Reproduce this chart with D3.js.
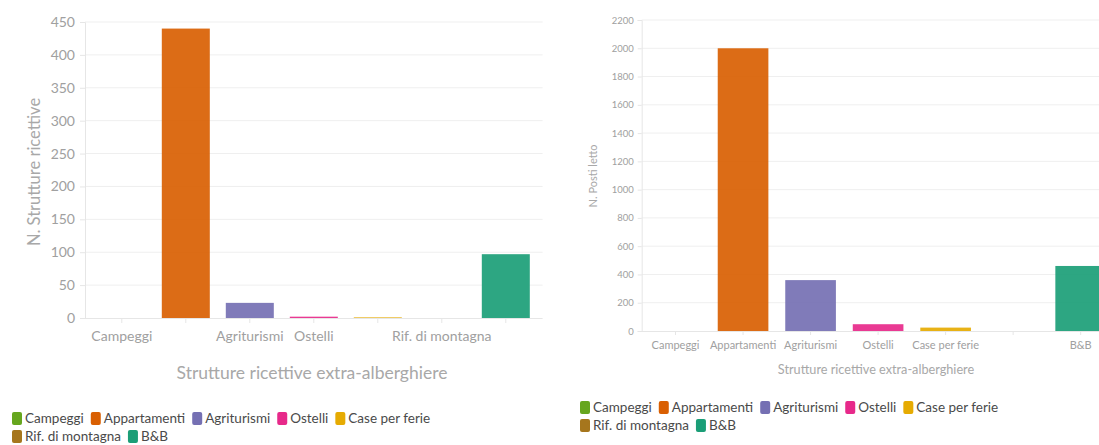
<!DOCTYPE html>
<html>
<head>
<meta charset="utf-8">
<script src="https://cdn.jsdelivr.net/npm/d3@7/dist/d3.min.js"></script>
<style>
  html, body { margin: 0; padding: 0; background: #fff; }
  svg { display: block; font-family: Lato, "Noto Sans", sans-serif; }
</style>
</head>
<body>
<svg id="chart" width="1099" height="445"></svg>
<script>
// Categories of non-hotel accommodation
const categories = ["Campeggi", "Appartamenti", "Agriturismi", "Ostelli", "Case per ferie", "Rif. di montagna", "B&B"];
const colors = ["#66a61e", "#d95f02", "#7570b3", "#e7298a", "#e6ab02", "#a6761d", "#1b9e77"];

// Number of establishments per category
const struttureValues = [0, 440, 23, 2, 1, 0, 97];
// Number of beds per category
const postiLettoValues = [0, 2000, 360, 48, 24, 0, 460];

// Tick values
const struttureTicks = [0, 50, 100, 150, 200, 250, 300, 350, 400, 450];
const postiTicks = [0, 200, 400, 600, 800, 1000, 1200, 1400, 1600, 1800, 2000, 2200];
// Category labels that fit on each axis
const struttureShownLabels = ["Campeggi", "Agriturismi", "Ostelli", "Rif. di montagna"];
const postiShownLabels = ["Campeggi", "Appartamenti", "Agriturismi", "Ostelli", "Case per ferie", "B&B"];

const svg = d3.select("#chart");

function drawPanel(cfg) {
  const g = svg.append("g");
  const x = d3.scaleBand().domain(categories).range([cfg.x0, cfg.x1])
    .paddingInner(0.25).paddingOuter(cfg.outer);
  const y = d3.scaleLinear().domain([0, cfg.max]).range([cfg.yBottom, cfg.yTop]);

  // horizontal gridlines
  g.append("g").selectAll("line").data(cfg.ticks.filter(t => t > 0)).join("line")
    .attr("x1", cfg.x0).attr("x2", cfg.x1)
    .attr("y1", d => y(d)).attr("y2", d => y(d))
    .attr("stroke", "#efefef").attr("stroke-width", 1);

  // y axis
  const ya = g.append("g").attr("transform", `translate(${cfg.x0},0)`)
    .call(d3.axisLeft(y).tickValues(cfg.ticks).tickFormat(d3.format("d"))
      .tickSize(cfg.tickLen).tickPadding(cfg.tickPad));
  ya.select(".domain").attr("stroke", "#e6e6e6");
  ya.selectAll(".tick line").attr("stroke", "#e6e6e6");
  ya.selectAll("text").attr("fill", "#a0a0a0").attr("font-size", cfg.yTickFont)
    .attr("font-family", "Lato, sans-serif");

  // bars
  g.append("g").selectAll("rect").data(cfg.values).join("rect")
    .attr("x", (d, i) => x(categories[i]))
    .attr("width", x.bandwidth())
    .attr("y", d => y(d))
    .attr("height", d => cfg.yBottom - y(d))
    .attr("fill", (d, i) => colors[i])
    .attr("fill-opacity", 0.92);

  // x axis
  const xa = g.append("g").attr("transform", `translate(0,${cfg.yBottom})`)
    .call(d3.axisBottom(x).tickSize(cfg.tickLen).tickPadding(cfg.xTickPad)
      .tickFormat(d => cfg.shown.includes(d) ? d : ""));
  xa.select(".domain").attr("stroke", "#e6e6e6").attr("d", `M${cfg.x0},0.5H${cfg.x1}`);
  xa.selectAll(".tick line").attr("stroke", "#e6e6e6");
  xa.selectAll("text").attr("fill", "#a0a0a0").attr("font-size", cfg.xTickFont)
    .attr("font-family", "Lato, sans-serif");

  // axis titles
  g.append("text")
    .attr("x", cfg.xTitleX).attr("y", cfg.xTitleY)
    .attr("text-anchor", "middle").attr("fill", "#a8a8a8")
    .attr("font-size", cfg.xTitleFont)
    .text("Strutture ricettive extra-alberghiere");
  g.append("text")
    .attr("transform", `translate(${cfg.yTitleX},${cfg.yTitleY}) rotate(-90)`)
    .attr("text-anchor", "middle").attr("fill", "#a8a8a8")
    .attr("font-size", cfg.yTitleFont)
    .text(cfg.yTitle);

  // legend, wrapping onto a new row when it runs past maxWidth
  const lg = g.append("g");
  let cx = cfg.legX, cy = cfg.legY;
  categories.forEach((c, i) => {
    const item = lg.append("g");
    item.append("rect").attr("x", 0).attr("y", -11).attr("width", 10).attr("height", 13)
      .attr("rx", 2).attr("fill", colors[i]);
    const t = item.append("text").attr("x", 13).attr("y", 0)
      .attr("font-size", 13.5).attr("fill", "#4a4a4a").text(c);
    const w = 13 + t.node().getComputedTextLength();
    if (cx + w - cfg.legX > cfg.legMax && cx > cfg.legX) {
      cx = cfg.legX; cy += 18;
    }
    item.attr("transform", `translate(${cx},${cy})`);
    cx += w + 7;
  });
}

drawPanel({
  x0: 85, x1: 542.6, outer: 0.2, yBottom: 318, yTop: 22, max: 450,
  values: struttureValues, ticks: struttureTicks, shown: struttureShownLabels,
  tickLen: 5, tickPad: 5, xTickPad: 8, yTickFont: 14, xTickFont: 14,
  xTitleX: 312, xTitleY: 379, xTitleFont: 17.5,
  yTitleX: 40, yTitleY: 172, yTitleFont: 16.5, yTitle: "N. Strutture ricettive",
  legX: 12, legY: 423, legMax: 450
});

drawPanel({
  x0: 641.7, x1: 1114.5, outer: 0.126, yBottom: 331, yTop: 20, max: 2200,
  values: postiLettoValues, ticks: postiTicks, shown: postiShownLabels,
  tickLen: 4, tickPad: 4, xTickPad: 6, yTickFont: 9.5, xTickFont: 11,
  xTitleX: 876, xTitleY: 374, xTitleFont: 12.7,
  yTitleX: 597, yTitleY: 176, yTitleFont: 11, yTitle: "N. Posti letto",
  legX: 580, legY: 412, legMax: 450
});
</script>
</body>
</html>
